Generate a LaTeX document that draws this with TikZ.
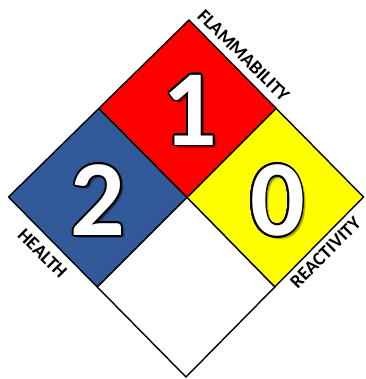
\documentclass[tikz,border=0pt]{standalone}
\usepackage{fontspec}
\setmainfont{Carlito}
\usetikzlibrary{calc}
\definecolor{nfpablue}{HTML}{325A9B}
\definecolor{nfpared}{HTML}{FF0000}
\definecolor{nfpayellow}{HTML}{FFFF00}
\tikzset{
  quad/.style={draw=black, line width=1.4pt, line join=miter},
  digitstyle/.style={font=\fontsize{108}{108}\selectfont\bfseries, inner sep=0pt},
  labelstyle/.style={font=\fontsize{19}{20}\selectfont\bfseries, inner sep=0pt, text=black},
}
\newcommand\hazdigit[3]{%
  \foreach \sx/\sy in {1.5/1.5,2.5/2.5,3.5/3.5,3/2,2/3} {
    \node[digitstyle, text=black, opacity=0.13] at ($(#2)+(\sx,\sy)$) {#3};
  }
  \foreach \a in {0,22.5,...,337.5} {
    \node[digitstyle, text=black] at ($(#2)+(\a:1.7)$) {#3};
  }
  \node[digitstyle, text=white] (#1) at (#2) {#3};
}
\begin{document}
\begin{tikzpicture}[x=1pt,y=-1pt]
\useasboundingbox (0,0) rectangle (365,379);
\coordinate (T) at (189,20);
\coordinate (R) at (363.5,197);
\coordinate (B) at (186,377);
\coordinate (L) at (8.5,197);
\coordinate (C) at (187,197.5);
\coordinate (TL) at ($(T)!0.5!(L)$);
\coordinate (TR) at ($(T)!0.5!(R)$);
\coordinate (BL) at ($(B)!0.5!(L)$);
\coordinate (BR) at ($(B)!0.5!(R)$);
% squares
\filldraw[quad, fill=nfpared] (T) -- (TR) -- (C) -- (TL) -- cycle;
\filldraw[quad, fill=nfpablue] (TL) -- (C) -- (BL) -- (L) -- cycle;
\filldraw[quad, fill=nfpayellow] (TR) -- (R) -- (BR) -- (C) -- cycle;
\filldraw[quad, fill=white] (C) -- (BR) -- (B) -- (BL) -- cycle;
% digits
\coordinate (pf) at (190,110);
\coordinate (ph) at (98,200);
\coordinate (pr) at (277.5,200.5);
\hazdigit{flam}{pf}{1}
\hazdigit{health}{ph}{2}
\hazdigit{react}{pr}{0}
% labels
\node[labelstyle, rotate=-45] (lflam) at (243.5,55.5) {FLAMMABILITY};
\node[labelstyle, rotate=-45] (lhealth) at (42.5,253.5) {HEALTH};
\node[labelstyle, rotate=45] (lreact) at (325.5,252.5) {REACTIVITY};
\end{tikzpicture}
\end{document}
